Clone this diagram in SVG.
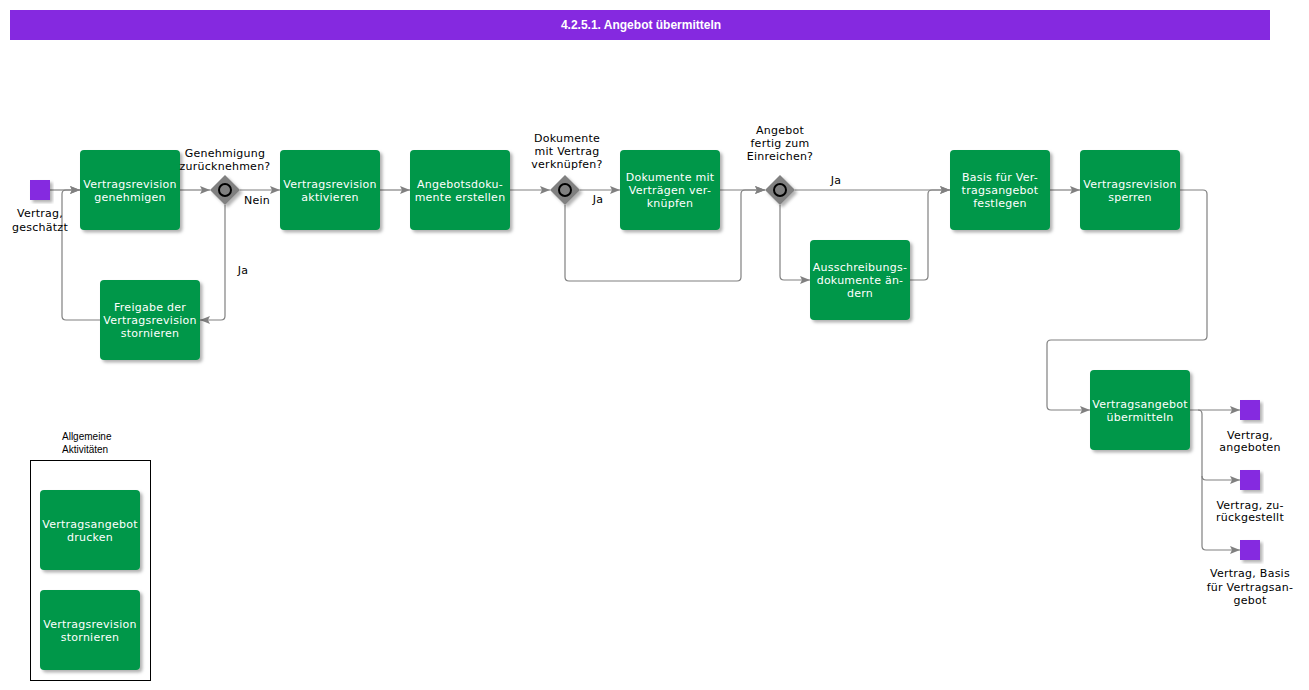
<svg xmlns="http://www.w3.org/2000/svg" width="1309" height="690" viewBox="0 0 1309 690">
<style>
.task rect.b{fill:#00974a;}
.task text{fill:#ffffff;font-family:"DejaVu Sans",Verdana,sans-serif;font-size:11px;letter-spacing:0.25px;text-anchor:middle;}
.lbl{fill:#000000;font-family:"DejaVu Sans",Verdana,sans-serif;font-size:11px;letter-spacing:0.25px;text-anchor:middle;}
.ev{fill:#8529e0;}
.conn path{fill:none;stroke:#808080;stroke-width:1.2;}
.gw path{fill:#808080;}
.gw circle{fill:#808080;stroke:#000000;stroke-width:2;}
</style>
<defs>
<filter id="sh" x="-10%" y="-10%" width="130%" height="130%">
<feDropShadow dx="2.5" dy="2.5" stdDeviation="1.5" flood-color="#000000" flood-opacity="0.3"/>
</filter>
<marker id="arr" markerUnits="userSpaceOnUse" markerWidth="10" markerHeight="10" viewBox="0 0 10 10" refX="10" refY="5" orient="auto">
<path d="M0,1 L10,5 L0,9 L2,5 Z" fill="#808080"/>
</marker>
</defs>

<g id="title">
<rect x="10" y="10" width="1260" height="30" fill="#8529e0"/>
<text x="641" y="29" fill="#ffffff" font-family="Liberation Sans,Arial,sans-serif" font-size="12" font-weight="bold" text-anchor="middle">4.2.5.1. Angebot übermitteln</text>
</g>

<g class="conn" id="connectors">
<path d="M50,190 H80" marker-end="url(#arr)"/>
<path d="M100,320 H66 Q62,320 62,316 V194 Q62,190 66,190 H80" marker-end="url(#arr)"/>
<path d="M180,190 H210" marker-end="url(#arr)"/>
<path d="M240,190 H280" marker-end="url(#arr)"/>
<path d="M225,205 V316 Q225,320 221,320 H200" marker-end="url(#arr)"/>
<path d="M380,190 H410" marker-end="url(#arr)"/>
<path d="M510,190 H550" marker-end="url(#arr)"/>
<path d="M580,190 H620" marker-end="url(#arr)"/>
<path d="M565,205 V277 Q565,281 569,281 H737 Q741,281 741,277 V194 Q741,190 745,190 H765" marker-end="url(#arr)"/>
<path d="M720,190 H765" marker-end="url(#arr)"/>
<path d="M795,190 H950" marker-end="url(#arr)"/>
<path d="M780,205 V276 Q780,280 784,280 H810" marker-end="url(#arr)"/>
<path d="M910,280 H924 Q928,280 928,276 V194 Q928,190 932,190 H950" marker-end="url(#arr)"/>
<path d="M1050,190 H1080" marker-end="url(#arr)"/>
<path d="M1180,190 H1203 Q1207,190 1207,194 V336 Q1207,340 1203,340 H1051 Q1047,340 1047,344 V406 Q1047,410 1051,410 H1090" marker-end="url(#arr)"/>
<path d="M1190,410 H1240" marker-end="url(#arr)"/>
<path d="M1198,410 Q1202,410 1202,414 V476 Q1202,480 1206,480 H1240" marker-end="url(#arr)"/>
<path d="M1202,476 V546 Q1202,550 1206,550 H1240" marker-end="url(#arr)"/>
</g>

<g id="labels">
<text class="lbl" x="257" y="204">Nein</text>
<text class="lbl" x="243" y="274">Ja</text>
<text class="lbl" x="598" y="203">Ja</text>
<text class="lbl" x="836" y="184">Ja</text>
</g>

<g id="start">
<rect class="ev" x="30" y="180" width="20" height="20" filter="url(#sh)"/>
<text class="lbl" x="40" y="217">Vertrag,</text>
<text class="lbl" x="40" y="231">geschätzt</text>
</g>

<g id="t1" class="task">
<rect class="b" x="80" y="150" width="100" height="80" rx="4" filter="url(#sh)"/>
<text x="130" y="188">Vertragsrevision</text>
<text x="130" y="201">genehmigen</text>
</g>

<g id="g1" class="gw">
<path d="M225,175 L240,190 L225,205 L210,190 Z" filter="url(#sh)"/>
<circle cx="225" cy="190" r="6"/>
<text class="lbl" x="225" y="157">Genehmigung</text>
<text class="lbl" x="225" y="170">zurücknehmen?</text>
</g>

<g id="t_freigabe" class="task">
<rect class="b" x="100" y="280" width="100" height="80" rx="4" filter="url(#sh)"/>
<text x="150" y="311">Freigabe der</text>
<text x="150" y="324">Vertragsrevision</text>
<text x="150" y="337">stornieren</text>
</g>

<g id="t2" class="task">
<rect class="b" x="280" y="150" width="100" height="80" rx="4" filter="url(#sh)"/>
<text x="330" y="188">Vertragsrevision</text>
<text x="330" y="201">aktivieren</text>
</g>

<g id="t3" class="task">
<rect class="b" x="410" y="150" width="100" height="80" rx="4" filter="url(#sh)"/>
<text x="460" y="188">Angebotsdoku-</text>
<text x="460" y="201">mente erstellen</text>
</g>

<g id="g2" class="gw">
<path d="M565,175 L580,190 L565,205 L550,190 Z" filter="url(#sh)"/>
<circle cx="565" cy="190" r="6"/>
<text class="lbl" x="567" y="142">Dokumente</text>
<text class="lbl" x="567" y="155">mit Vertrag</text>
<text class="lbl" x="567" y="168">verknüpfen?</text>
</g>

<g id="t4" class="task">
<rect class="b" x="620" y="150" width="100" height="80" rx="4" filter="url(#sh)"/>
<text x="670" y="181">Dokumente mit</text>
<text x="670" y="194">Verträgen ver-</text>
<text x="670" y="207">knüpfen</text>
</g>

<g id="g3" class="gw">
<path d="M780,175 L795,190 L780,205 L765,190 Z" filter="url(#sh)"/>
<circle cx="780" cy="190" r="6"/>
<text class="lbl" x="780" y="134">Angebot</text>
<text class="lbl" x="780" y="147">fertig zum</text>
<text class="lbl" x="780" y="160">Einreichen?</text>
</g>

<g id="t5" class="task">
<rect class="b" x="810" y="240" width="100" height="80" rx="4" filter="url(#sh)"/>
<text x="860" y="271">Ausschreibungs-</text>
<text x="860" y="284">dokumente än-</text>
<text x="860" y="297">dern</text>
</g>

<g id="t6" class="task">
<rect class="b" x="950" y="150" width="100" height="80" rx="4" filter="url(#sh)"/>
<text x="1000" y="181">Basis für Ver-</text>
<text x="1000" y="194">tragsangebot</text>
<text x="1000" y="207">festlegen</text>
</g>

<g id="t7" class="task">
<rect class="b" x="1080" y="150" width="100" height="80" rx="4" filter="url(#sh)"/>
<text x="1130" y="188">Vertragsrevision</text>
<text x="1130" y="201">sperren</text>
</g>

<g id="t8" class="task">
<rect class="b" x="1090" y="370" width="100" height="80" rx="4" filter="url(#sh)"/>
<text x="1140" y="408">Vertragsangebot</text>
<text x="1140" y="421">übermitteln</text>
</g>

<g id="end1">
<rect class="ev" x="1240" y="400" width="20" height="20" filter="url(#sh)"/>
<text class="lbl" x="1250" y="439">Vertrag,</text>
<text class="lbl" x="1250" y="451">angeboten</text>
</g>

<g id="end2">
<rect class="ev" x="1240" y="470" width="20" height="20" filter="url(#sh)"/>
<text class="lbl" x="1250" y="509">Vertrag, zu-</text>
<text class="lbl" x="1250" y="521">rückgestellt</text>
</g>

<g id="end3">
<rect class="ev" x="1240" y="540" width="20" height="20" filter="url(#sh)"/>
<text class="lbl" x="1250" y="577">Vertrag, Basis</text>
<text class="lbl" x="1250" y="591">für Vertragsan-</text>
<text class="lbl" x="1250" y="604">gebot</text>
</g>

<g id="legend">
<text x="62" y="440" font-family="Liberation Sans,Arial,sans-serif" font-size="10" fill="#000000">Allgemeine</text>
<text x="62" y="453" font-family="Liberation Sans,Arial,sans-serif" font-size="10" fill="#000000">Aktivitäten</text>
<rect x="30.5" y="460.5" width="120" height="220" fill="none" stroke="#000000" stroke-width="1"/>
</g>

<g id="l1" class="task">
<rect class="b" x="40" y="490" width="100" height="80" rx="4" filter="url(#sh)"/>
<text x="90" y="528">Vertragsangebot</text>
<text x="90" y="541">drucken</text>
</g>

<g id="l2" class="task">
<rect class="b" x="40" y="590" width="100" height="80" rx="4" filter="url(#sh)"/>
<text x="90" y="628">Vertragsrevision</text>
<text x="90" y="641">stornieren</text>
</g>
</svg>
